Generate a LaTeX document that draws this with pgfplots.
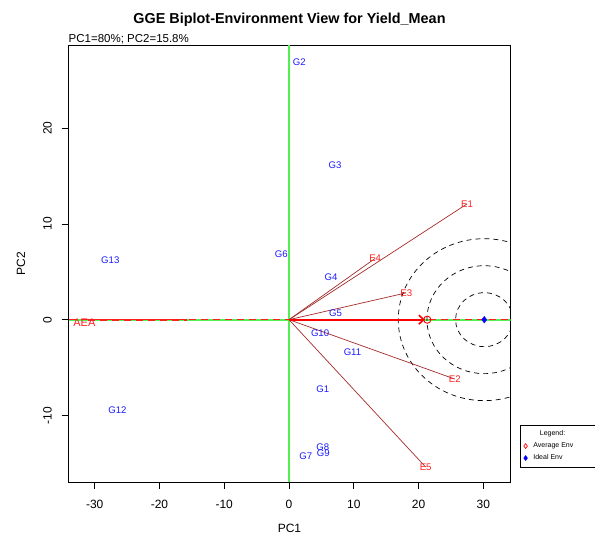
\documentclass[border=0pt]{standalone}
\usepackage{fontspec}
\setmainfont{Liberation Sans}
\usepackage{pgfplots}
\usepackage{pgfplotstable}
\pgfplotsset{compat=1.18}
\usetikzlibrary{arrows.meta}
\definecolor{rgreen}{RGB}{80,240,80}
\definecolor{rbrown}{RGB}{165,42,42}
\definecolor{rred}{RGB}{255,30,30}
\definecolor{rblue}{RGB}{25,25,255}

\pgfplotsset{
  legavg/.style={legend image code/.code={\draw[red, line width=0.7pt, mark=diamond, mark size=2.4pt] plot coordinates {(0pt,0pt)};}},
  legideal/.style={legend image code/.code={\draw[blue, mark=diamond*, mark size=2.4pt] plot coordinates {(0pt,0pt)};}},
  legnone/.style={legend image code/.code={\path (0pt,0pt);}},
}

\pgfplotstableread{
x y label
5.2 -7.3 G1
1.6 26.9 G2
7.1 16.1 G3
6.5 4.4 G4
7.2 0.7 G5
-1.2 6.8 G6
2.6 -14.3 G7
5.2 -13.3 G8
5.3 -13.9 G9
4.8 -1.4 G10
9.8 -3.4 G11
-26.5 -9.5 G12
-27.6 6.2 G13
}\genotypes

\pgfplotstableread{
x y label
27.5 12.1 E1
25.6 -6.2 E2
18.1 2.8 E3
13.3 6.4 E4
21.1 -15.4 E5
}\environments

\begin{document}
\begin{tikzpicture}[x=1pt,y=1pt]
\path[use as bounding box] (0,0) rectangle (595,535);
\begin{axis}[
  at={(68.5pt,53pt)}, anchor=south west,
  scale only axis, width=442pt, height=437pt,
  xmin=-34.05, xmax=34.2, ymin=-16.96, ymax=28.7,
  axis line style={black, line width=0.9pt},
  xtick={-30,-20,-10,0,10,20,30}, xticklabels={-30,-20,-10,0,10,20,30},
  ytick={-10,0,10,20}, yticklabels={-10,0,10,20},
  tick pos=left, tick align=outside, major tick length=7pt,
  tick style={black, line width=0.8pt},
  xticklabel style={anchor=center, yshift=-15.5pt, font=\fontsize{12}{12}\selectfont},
  yticklabel style={anchor=center, xshift=-14pt, rotate=90, font=\fontsize{12}{12}\selectfont},
  clip=true,
  legend style={at={(1.0215,0.1304)}, anchor=north west, draw=black, line width=0.6pt,
    font=\fontsize{7}{7}\selectfont, inner xsep=3.5pt, inner ysep=5.5pt, row sep=5.5pt,
    column sep=6pt,
    nodes={inner sep=0pt, text height=5pt, text depth=1.5pt},
    cells={anchor=west}},
]
% reference lines
\addplot[forget plot, rgreen, line width=1.6pt] coordinates {(0,-16.96) (0,28.7)};
\addplot[forget plot, rgreen, line width=1.8pt] coordinates {(-34.05,0) (34.2,0)};
% concentric circles round the ideal environment
\draw[black, line width=0.7pt, dash pattern=on 5pt off 4pt] (axis cs:30.15,0) ellipse [x radius=4.43, y radius=2.82];
\draw[black, line width=0.7pt, dash pattern=on 5pt off 4pt] (axis cs:30.15,0) ellipse [x radius=8.85, y radius=5.64];
\draw[black, line width=0.7pt, dash pattern=on 5pt off 4pt] (axis cs:30.15,0) ellipse [x radius=13.28, y radius=8.46];
% environment vectors
\addplot[forget plot, rbrown, line width=0.7pt] coordinates {(0,0) (27.5,12.1)};
\addplot[forget plot, rbrown, line width=0.7pt] coordinates {(0,0) (25.6,-6.2)};
\addplot[forget plot, rbrown, line width=0.7pt] coordinates {(0,0) (18.1,2.8)};
\addplot[forget plot, rbrown, line width=0.7pt] coordinates {(0,0) (13.3,6.4)};
\addplot[forget plot, rbrown, line width=0.7pt] coordinates {(0,0) (21.1,-15.4)};
% AEA line
\addplot[forget plot, rred, line width=1.5pt, dash pattern=on 7pt off 5pt] coordinates {(-34.05,0) (34.2,0)};
\addplot[forget plot, rred, line width=1.8pt, dash pattern=on 7pt off 5pt] coordinates {(-31,0) (-15.8,0)};
% AEA arrow
\addplot[forget plot, red, line width=2.2pt, -{Straight Barb[length=5pt,width=9pt,line width=1.6pt]}] coordinates {(0,0) (21.0,0)};
% genotype labels
\addplot[forget plot, only marks, mark=none, point meta=explicit symbolic,
  nodes near coords, nodes near coords align=center,
  every node near coord/.style={text=rblue, font=\fontsize{9.6}{9.6}\selectfont, inner sep=0pt}]
  table[x=x, y=y, meta=label] {\genotypes};
% environment labels
\addplot[forget plot, only marks, mark=none, point meta=explicit symbolic,
  nodes near coords, nodes near coords align=center,
  every node near coord/.style={text=rred, font=\fontsize{9.6}{9.6}\selectfont, inner sep=0pt}]
  table[x=x, y=y, meta=label] {\environments};
\addplot[forget plot, only marks, mark=none, point meta=explicit symbolic,
  nodes near coords, nodes near coords align=center,
  every node near coord/.style={text=rred, font=\fontsize{11}{11}\selectfont, inner sep=0pt}]
  coordinates {(-31.6,-0.35) [AEA]};
% average and ideal environment
\addplot[forget plot, only marks, mark=o, red, mark size=3.6pt, line width=0.9pt] coordinates {(21.35,0)};
\addplot[forget plot, only marks, mark=diamond*, blue, mark size=3.3pt] coordinates {(30.15,0)};
% legend
\addlegendimage{legnone}
\addlegendentry{\hspace*{6.5pt}Legend:}
\addlegendimage{legavg}
\addlegendentry{\makebox[58pt][l]{Average Env}}
\addlegendimage{legideal}
\addlegendentry{Ideal Env}
\end{axis}
\node[anchor=base, font=\bfseries\fontsize{14.4}{14.4}\selectfont] at (289.5,511) {GGE Biplot-Environment View for Yield\_Mean};
\node[anchor=base west, inner sep=0pt, font=\fontsize{11.5}{11.5}\selectfont] at (68.5,492.5) {PC1=80\%; PC2=15.8\%};
\node[anchor=center, font=\fontsize{12}{12}\selectfont] at (289.5,7) {PC1};
\node[anchor=center, rotate=90, font=\fontsize{12}{12}\selectfont] at (21,271.5) {PC2};
\end{tikzpicture}
\end{document}
